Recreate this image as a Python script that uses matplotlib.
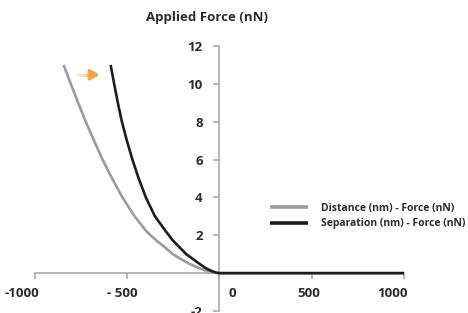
import matplotlib
matplotlib.use("Agg")
import matplotlib.pyplot as plt
import matplotlib.transforms as mtransforms
import numpy as np

# values (x in nm, force in nN)
dist_x = [-845, -806, -766, -725, -680, -634, -582, -526, -460, -395, -345, -300,
          -253, -205, -164, -108, -62, -25, 0, 1000]
dist_f = [11.0, 10.0, 9.0, 8.0, 7.0, 6.0, 5.0, 4.0, 3.0, 2.2, 1.75, 1.4,
          1.0, 0.72, 0.5, 0.25, 0.1, 0.02, 0.0, 0.0]
sep_x = [-590, -571, -551, -529, -502, -472, -438, -399, -350, -290, -255, -220,
         -180, -140, -110, -72, -40, -15, 0, 1000]
sep_f = [11.0, 10.0, 9.0, 8.0, 7.0, 6.0, 5.0, 4.0, 3.0, 2.2, 1.75, 1.4,
         1.0, 0.72, 0.5, 0.25, 0.1, 0.02, 0.0, 0.0]

x_ticks = [-1000, -500, 0, 500, 1000]
x_labels = ["-1000", "- 500", "0", "500", "1000"]
x_label_shift = [-13, -5, 13, -3, -12]  # px, labels sit off their ticks in the original
y_ticks = [-2, 2, 4, 6, 8, 10, 12]

font = "Open Sans"
txt_col = "#2b2b2b"
axis_col = "#a3a3a3"

fig = plt.figure(figsize=(4.68, 3.13), dpi=100)
ax = fig.add_axes([35 / 468, 0.0064, 369 / 468, 0.8466])
ax.set_xlim(-1000, 1000)
ax.set_ylim(-2, 12)

ax.plot(dist_x, dist_f, color="#9b9b9b", lw=1.9, solid_capstyle="butt",
        solid_joinstyle="round", label="Distance (nm) - Force (nN)", zorder=3)
ax.plot(sep_x, sep_f, color="#1f1c1d", lw=1.9, solid_capstyle="butt",
        solid_joinstyle="round", label="Separation (nm) - Force (nN)", zorder=4)

# spines crossing at the origin
for s in ["top", "right"]:
    ax.spines[s].set_visible(False)
ax.spines["left"].set_position(("data", 0))
ax.spines["bottom"].set_position(("data", 0))
for s in ["left", "bottom"]:
    ax.spines[s].set_color(axis_col)
    ax.spines[s].set_linewidth(1.1)

ax.set_xticks(x_ticks)
ax.set_xticklabels(x_labels)
ax.set_yticks(y_ticks)
ax.set_yticklabels([str(v) for v in y_ticks])
ax.tick_params(axis="both", direction="out", length=4, width=1.1, color=axis_col,
               labelcolor=txt_col, labelsize=9.5)
ax.tick_params(axis="x", pad=6)
ax.tick_params(axis="y", pad=8)
for lab in ax.get_xticklabels() + ax.get_yticklabels():
    lab.set_fontfamily(font)
    lab.set_fontweight("bold")
for lab, dx in zip(ax.get_xticklabels(), x_label_shift):
    lab.set_transform(lab.get_transform() +
                      mtransforms.ScaledTranslation(dx / 100, 0, fig.dpi_scale_trans))

fig.text(207 / 468, 1 - 18 / 313, "Applied Force (nN)", ha="center", va="center",
         fontsize=9.5, fontweight="bold", family=font, color=txt_col)

leg = ax.legend(loc="upper left", bbox_to_anchor=(270 / 468, 1 - 203 / 313),
                bbox_transform=fig.transFigure, frameon=False,
                prop={"family": font, "weight": "bold", "size": 7.5},
                handlelength=3.6, handletextpad=1.3, labelspacing=0.42,
                borderaxespad=0, borderpad=0)
for t in leg.get_texts():
    t.set_color(txt_col)
for h in leg.get_lines():
    h.set_linewidth(2.6)

# orange gradient arrow pointing at the separation curve
tail_x, head_x, arrow_y = -780, -650, 10.48
shaft = np.linspace(tail_x, head_x - 35, 16)
for i in range(len(shaft) - 1):
    ax.plot(shaft[i:i + 2], [arrow_y, arrow_y], color="#f8a345", lw=2.4,
            alpha=0.12 + 0.85 * i / (len(shaft) - 2), solid_capstyle="butt", zorder=5)
ax.annotate("", xy=(head_x, arrow_y), xytext=(head_x - 38, arrow_y),
            arrowprops=dict(arrowstyle="-|>,head_length=0.5,head_width=0.3",
                            color="#f8a345", lw=2.4, shrinkA=0, shrinkB=0), zorder=6)

fig.savefig("out.png", dpi=100)
